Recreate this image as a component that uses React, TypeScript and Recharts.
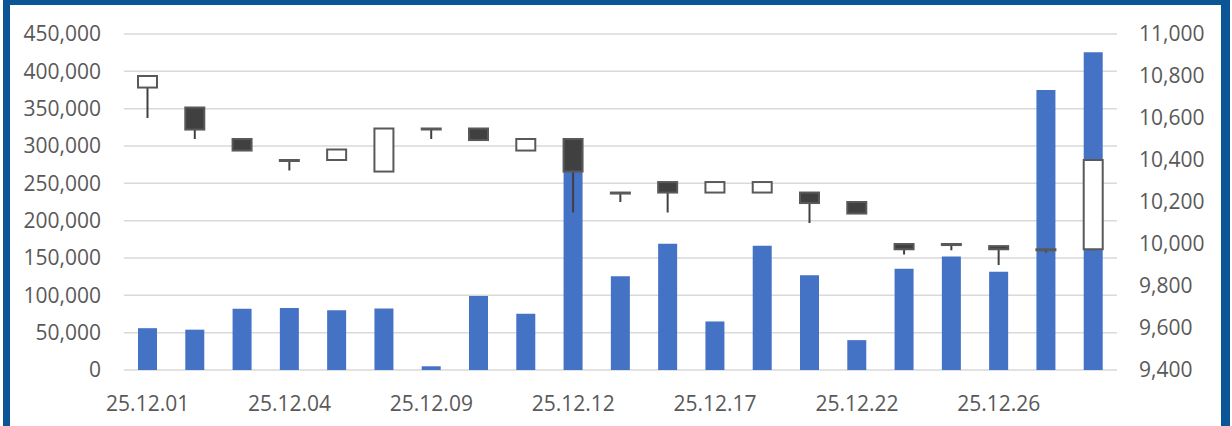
import React from 'react';
import { ComposedChart, Bar, XAxis, YAxis, CartesianGrid } from 'recharts';

// trading days
const dates = [
  '25.12.01', '25.12.02', '25.12.03', '25.12.04', '25.12.05', '25.12.08', '25.12.09',
  '25.12.10', '25.12.11', '25.12.12', '25.12.15', '25.12.16', '25.12.17', '25.12.18',
  '25.12.19', '25.12.22', '25.12.23', '25.12.24', '25.12.26', '25.12.29', '25.12.30',
];

// volume (left axis)
const volume = [
  56000, 54000, 82000, 83000, 80000, 82500, 5000, 99000, 75500, 300000, 125500,
  169000, 65000, 166500, 127000, 40000, 135500, 152000, 131500, 375000, 425500,
];

// OHLC (right axis)
const open = [
  10745, 10650, 10500, 10400, 10400, 10345, 10550, 10550, 10445, 10500, 10245,
  10295, 10245, 10245, 10245, 10200, 10000, 10000, 9990, 9975, 9975,
];
const high = [
  10800, 10650, 10500, 10400, 10450, 10550, 10550, 10550, 10500, 10500, 10245,
  10295, 10295, 10295, 10245, 10200, 10000, 10000, 9990, 9975, 10400,
];
const low = [
  10600, 10500, 10445, 10350, 10400, 10345, 10500, 10495, 10445, 10150, 10200,
  10150, 10245, 10245, 10100, 10145, 9950, 9970, 9900, 9960, 9970,
];
const close = [
  10800, 10545, 10445, 10400, 10450, 10550, 10550, 10495, 10500, 10345, 10245,
  10245, 10295, 10295, 10195, 10145, 9975, 9995, 9975, 9975, 10400,
];

const volTicks = [0, 50000, 100000, 150000, 200000, 250000, 300000, 350000, 400000, 450000];
const pxTicks = [9400, 9600, 9800, 10000, 10200, 10400, 10600, 10800, 11000];

const data = dates.map((d, i) => ({
  date: d,
  vol: volume[i],
  open: open[i],
  high: high[i],
  low: low[i],
  close: close[i],
  range: [low[i], high[i]],
}));

const fmt = (v: number) => v.toLocaleString('en-US');
const tickStyle = { fill: '#595959', fontSize: 21, fontFamily: 'Open Sans' };

// candle drawn inside the [low, high] bar rectangle
function Candle(props: any) {
  const { x, y, width, height, payload } = props;
  if (!payload) return null;
  const { open: o, close: c, high: h, low: l } = payload;
  const span = h - l;
  const pix = (v: number) => (span === 0 ? y : y + ((h - v) / span) * height);
  const cx = x + width / 2;
  const top = pix(Math.max(o, c));
  const bot = pix(Math.min(o, c));
  const up = c >= o;
  return (
    <g>
      <line x1={cx} x2={cx} y1={pix(h)} y2={pix(l)} stroke="#404040" strokeWidth={2} />
      <rect
        x={x}
        y={top}
        width={width}
        height={Math.max(bot - top, 1)}
        fill={up ? '#ffffff' : '#404040'}
        stroke="#595959"
        strokeWidth={2}
      />
    </g>
  );
}

export default function App() {
  return (
    <div style={{ position: 'absolute', left: 0, top: 0, width: 1232, height: 426, background: '#fff', overflow: 'hidden' }}>
      <div
        style={{
          position: 'absolute',
          left: 3,
          top: 0,
          width: 1227,
          height: 460,
          boxSizing: 'border-box',
          borderStyle: 'solid',
          borderColor: '#0b5596',
          borderWidth: '5px 9px 5px 7px',
        }}
      />
      <div style={{ position: 'absolute', left: 0, top: 0 }}>
        <ComposedChart
          width={1232}
          height={426}
          data={data}
          margin={{ top: 34, right: 0, bottom: 0, left: 0 }}
          barCategoryGap="10%"
        >
          <CartesianGrid
            vertical={false}
            xAxisId="x"
            yAxisId="vol"
            stroke="#d9d9d9"
            strokeWidth={1.5}
          />
          <XAxis
            xAxisId="x"
            dataKey="date"
            interval={2}
            axisLine={false}
            tickLine={false}
            tickSize={0}
            tickMargin={26}
            height={56}
            tick={tickStyle}
          />
          <XAxis xAxisId="x2" dataKey="date" hide />
          <YAxis
            yAxisId="vol"
            orientation="left"
            domain={[0, 450000]}
            ticks={volTicks}
            tickFormatter={fmt}
            axisLine={false}
            tickLine={false}
            tickSize={0}
            tickMargin={23}
            width={124}
            tick={tickStyle}
          />
          <YAxis
            yAxisId="px"
            orientation="right"
            domain={[9400, 11000]}
            ticks={pxTicks}
            tickFormatter={fmt}
            axisLine={false}
            tickLine={false}
            tickSize={0}
            tickMargin={22}
            width={115}
            tick={tickStyle}
          />
          <Bar
            xAxisId="x"
            yAxisId="vol"
            dataKey="vol"
            fill="#4472c4"
            barSize={19}
            isAnimationActive={false}
          />
          <Bar
            xAxisId="x2"
            yAxisId="px"
            dataKey="range"
            barSize={19}
            shape={(p: any) => <Candle {...p} />}
            isAnimationActive={false}
          />
        </ComposedChart>
      </div>
    </div>
  );
}
